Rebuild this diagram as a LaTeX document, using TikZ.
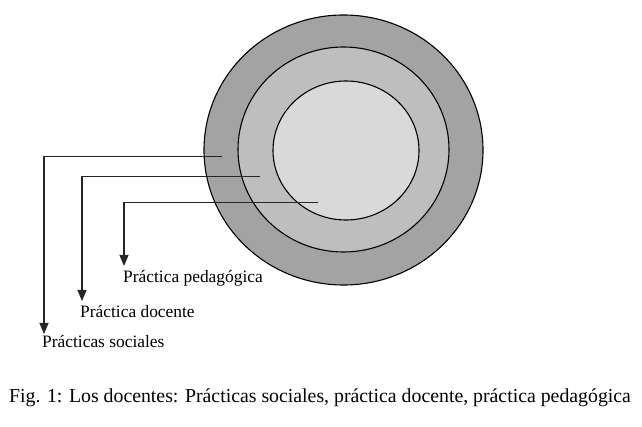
\documentclass[tikz,border=0pt]{standalone}
\usepackage{fontspec}
\setmainfont{Liberation Serif}
\usetikzlibrary{arrows.meta}
\definecolor{ringA}{HTML}{A3A3A3}
\definecolor{ringB}{HTML}{BEBEBE}
\definecolor{ringC}{HTML}{D9D9D9}
\tikzset{
  ring/.style={draw=black, line width=1.1pt},
  leader/.style={draw=black!85, line width=1.2pt, -{Triangle[width=9pt,length=11pt]}},
  lbl/.style={anchor=base west, inner sep=0pt, font=\fontsize{17.4}{20}\selectfont},
  captxt/.style={anchor=base, inner sep=0pt, font=\fontsize{19.8}{23}\selectfont}
}
\begin{document}
\begin{tikzpicture}[x=1pt,y=-1pt]
\useasboundingbox (0,0) rectangle (642,427);
\fill[white] (0,0) rectangle (642,427);
% rings
\draw[ring, fill=ringA] (343.5,150) ellipse [x radius=139.5, y radius=135];
\draw[ring, fill=ringB] (343.5,149.5) ellipse [x radius=105.5, y radius=102.5];
\draw[ring, fill=ringC] (346,150.5) ellipse [x radius=73, y radius=69.5];
% anchor points in rings
\coordinate (sOut) at (222,156.7);
\coordinate (sMid) at (260,176.7);
\coordinate (sIn) at (318,202.3);
\coordinate (eOut) at (44,334);
\coordinate (eMid) at (82,301);
\coordinate (eIn) at (124,266);
% labels
\node[lbl] (lIn) at (123,283) {Práctica pedagógica};
\node[lbl] (lMid) at (80,317) {Práctica docente};
\node[lbl] (lOut) at (42,347.5) {Prácticas sociales};
% leaders
\draw[leader] (sOut) -| (eOut);
\draw[leader] (sMid) -| (eMid);
\draw[leader] (sIn) -| (eIn);
% caption
\node[captxt] (caption) at (320,402) {Fig. 1: Los docentes: Prácticas sociales, práctica docente, práctica pedagógica};
\end{tikzpicture}
\end{document}
